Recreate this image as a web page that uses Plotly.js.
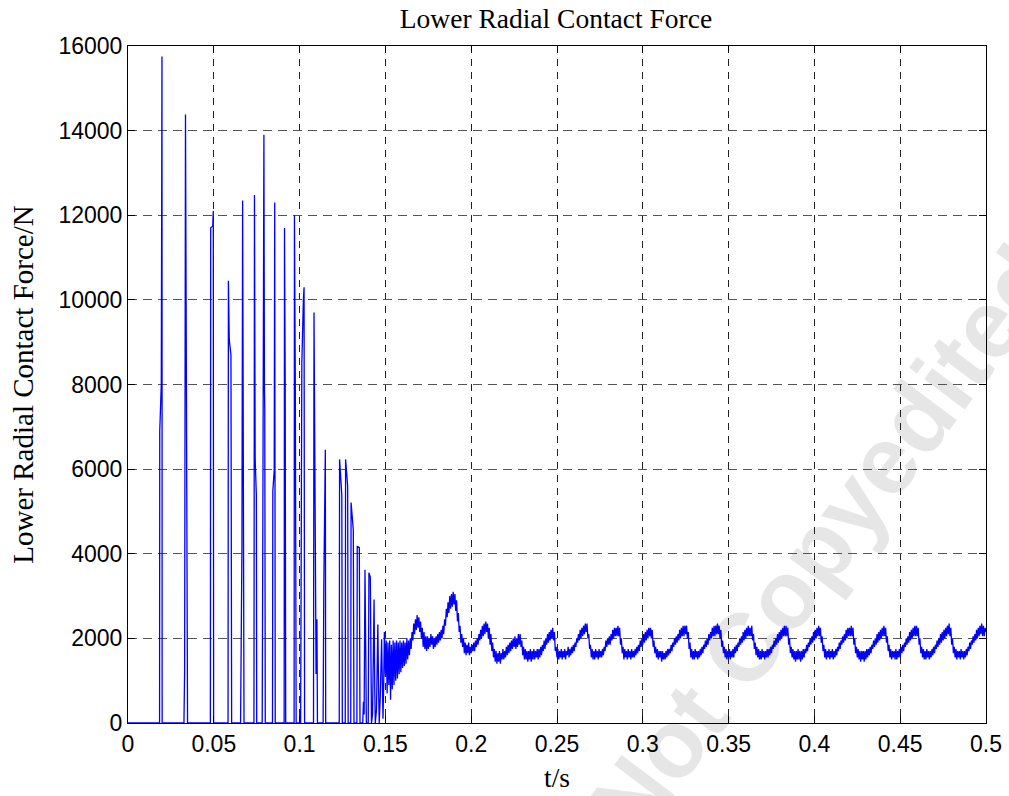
<!DOCTYPE html>
<html>
<head>
<meta charset="utf-8">
<script src="https://cdn.plot.ly/plotly-3.0.1.min.js"></script>
<style>
  html, body { margin: 0; padding: 0; background: #ffffff; }
  #chart { width: 1009px; height: 796px; }
</style>
</head>
<body>
<div id="chart"></div>
<script>
// ---- Transient phase: impact spikes (time in s, force in N) ----
const spikeT = [
  0, 0.0184, 0.0185, 0.0194, 0.0198, 0.0199,
  0.0326, 0.0330, 0.0335, 0.0342, 0.0345, 0.0347,
  0.0480, 0.0482, 0.0494, 0.0497, 0.0499,
  0.0583, 0.0585, 0.0590, 0.0600, 0.0604,
  0.0656, 0.0664, 0.0668, 0.0672, 0.0676,
  0.0734, 0.0737, 0.0741, 0.0748, 0.0750,
  0.0782, 0.0786, 0.0792, 0.0795, 0.0797, 0.0800,
  0.0842, 0.0844, 0.0852, 0.0855, 0.0858,
  0.0910, 0.0912, 0.0916, 0.0919,
  0.0968, 0.0970, 0.0975, 0.0980,
  0.1006, 0.1009, 0.1013, 0.1022, 0.1026, 0.1029,
  0.1081, 0.1084, 0.1094, 0.1096, 0.1101, 0.1104,
  0.1137, 0.1141, 0.1150, 0.1152,
  0.1231, 0.1233, 0.1246, 0.1249,
  0.1266, 0.1268, 0.1280, 0.1283,
  0.1298, 0.1300, 0.1313, 0.1317,
  0.1334, 0.1336, 0.1348, 0.1352,
  0.1368, 0.1372, 0.1376, 0.1381, 0.1386, 0.1389,
  0.1400, 0.1404, 0.1412, 0.1416, 0.1419,
  0.1425, 0.1431, 0.1434, 0.1438, 0.1441,
  0.1448, 0.1456, 0.1460, 0.1464,
  0.1470, 0.1478, 0.1482, 0.1486, 0.1490, 0.1494
];
const spikeF = [
  0, 0, 6900, 8000, 15750, 0,
  0, 1240, 14380, 7070, 5600, 0,
  0, 11700, 11750, 12100, 0,
  0, 10450, 9060, 8690, 0,
  0, 4180, 12350, 4100, 0,
  0, 12480, 6230, 5390, 0,
  0, 5000, 13900, 8000, 7400, 0,
  0, 5490, 5960, 12300, 0,
  0, 11700, 8100, 0,
  0, 12000, 8000, 0,
  0, 8190, 8500, 10000, 10300, 0,
  0, 9700, 2500, 1160, 2450, 0,
  0, 3230, 6460, 0,
  0, 6230, 5390, 0,
  0, 6230, 5600, 0,
  0, 5210, 4560, 0,
  0, 4170, 4150, 0,
  0, 500, 200, 3620, 1500, 0,
  0, 3550, 3450, 1000, 0,
  200, 2050, 2920, 800, 0,
  300, 2330, 900, 0,
  600, 1980, 1000, 100, 900, 2150
];

// ---- Steady phase: sampled every steadyDt seconds from steadyT0 (force in N) ----
const steadyT0 = 0.15;
const steadyDt = 0.0005;
const steadyF = [
  /* 0.150 */ 1100,1950,700,1900,900,1950,550,1850,800,1950,900,1900,1000,1950,1050,1900,1150,1950,1200,1900,
  /* 0.160 */ 1300,1950,1350,1900,1400,2000,1500,1950,1600,2000,1750,2150,1950,2350,2100,2450,2200,2550,2250,2500,
  /* 0.170 */ 2150,2400,2000,2250,1800,2150,1750,2050,1700,2050,1750,2000,1800,2100,1850,2050,1750,2000,1800,2050,
  /* 0.180 */ 1850,2100,1900,2150,1950,2200,2000,2300,2100,2450,2300,2700,2500,2850,2600,3000,2700,3050,2750,3100,
  /* 0.190 */ 2800,3050,2650,2900,2400,2600,2150,2300,1900,2100,1800,2000,1650,1900,1600,1850,1650,1900,1600,1800,
  /* 0.200 */ 1650,1850,1700,1900,1700,1950,1800,2000,1850,2100,1950,2200,2000,2300,2050,2350,2100,2400,2150,2350,
  /* 0.210 */ 2000,2250,1850,2100,1700,1900,1550,1750,1450,1700,1400,1650,1450,1700,1400,1650,1500,1750,1500,1700,
  /* 0.220 */ 1550,1800,1600,1850,1650,1900,1700,1950,1750,2000,1800,2050,1750,2000,1800,2100,1850,2100,1800,1950,
  /* 0.230 */ 1600,1800,1500,1750,1500,1700,1450,1700,1500,1750,1450,1700,1500,1750,1500,1700,1550,1750,1500,1750,
  /* 0.240 */ 1550,1800,1600,1850,1700,1950,1750,2000,1850,2100,1900,2150,1950,2200,2000,2250,1950,2150,1700,1800,
  /* 0.250 */ 1550,1750,1500,1700,1550,1750,1500,1700,1550,1750,1500,1700,1600,1800,1550,1750,1600,1800,1650,1850,
  /* 0.260 */ 1700,1900,1800,2000,1900,2100,1950,2200,2000,2250,2050,2300,2100,2350,2150,2350,2000,2100,1750,1850,
  /* 0.270 */ 1550,1750,1500,1700,1500,1750,1550,1700,1500,1750,1550,1700,1550,1750,1600,1800,1700,1950,1800,2000,
  /* 0.280 */ 1850,2050,1850,2100,1950,2200,2000,2250,2050,2250,2050,2300,2050,2250,1850,2000,1650,1800,1500,1750,
  /* 0.290 */ 1550,1700,1500,1750,1550,1700,1500,1750,1550,1700,1550,1750,1600,1800,1650,1850,1700,1950,1800,2000,
  /* 0.300 */ 1850,2100,1900,2150,1950,2200,2000,2250,2050,2250,2000,2200,1800,1950,1650,1800,1550,1750,1500,1700,
  /* 0.310 */ 1550,1700,1450,1700,1500,1650,1500,1700,1550,1750,1600,1750,1650,1850,1700,1900,1800,2000,1850,2050,
  /* 0.320 */ 1900,2100,1950,2200,2000,2250,2050,2300,2050,2300,2100,2300,2000,2150,1750,1900,1550,1750,1500,1700,
  /* 0.330 */ 1500,1750,1550,1700,1500,1700,1550,1750,1600,1800,1650,1850,1750,1950,1800,2000,1850,2100,1950,2150,
  /* 0.340 */ 2000,2250,2050,2300,2050,2300,2100,2350,2100,2300,2000,2200,1800,1950,1650,1800,1550,1750,1500,1700,
  /* 0.350 */ 1550,1750,1500,1700,1550,1750,1550,1800,1650,1850,1700,1900,1800,2000,1850,2050,1900,2150,1950,2200,
  /* 0.360 */ 2000,2250,2050,2300,2050,2250,2050,2300,1950,2100,1750,1900,1600,1800,1550,1750,1500,1700,1500,1750,
  /* 0.370 */ 1550,1700,1500,1700,1550,1750,1550,1750,1600,1800,1650,1850,1750,1950,1800,2000,1850,2100,1900,2150,
  /* 0.380 */ 1950,2200,2000,2250,2050,2300,2050,2300,2050,2250,1850,2000,1650,1800,1550,1750,1500,1700,1450,1700,
  /* 0.390 */ 1500,1750,1500,1700,1450,1700,1500,1750,1550,1750,1650,1850,1700,1900,1800,2000,1850,2050,1900,2150,
  /* 0.400 */ 1950,2200,2000,2250,2050,2300,2050,2250,1900,2050,1700,1850,1550,1750,1500,1700,1550,1750,1500,1700,
  /* 0.410 */ 1550,1750,1500,1700,1550,1750,1600,1800,1700,1900,1750,1950,1850,2050,1900,2100,1950,2200,2000,2250,
  /* 0.420 */ 2050,2250,2050,2300,2050,2250,1850,2000,1650,1800,1550,1750,1500,1700,1450,1700,1500,1700,1450,1700,
  /* 0.430 */ 1500,1750,1550,1750,1600,1800,1650,1850,1750,1950,1800,2000,1850,2100,1900,2150,1950,2200,2000,2250,
  /* 0.440 */ 2050,2300,2050,2250,1900,2050,1700,1850,1550,1750,1500,1700,1550,1700,1500,1750,1500,1700,1550,1750,
  /* 0.450 */ 1550,1800,1650,1850,1700,1900,1800,2000,1850,2050,1900,2150,1950,2200,2000,2250,2050,2300,2050,2300,
  /* 0.460 */ 2050,2250,1850,2000,1650,1800,1550,1750,1500,1700,1500,1750,1550,1700,1500,1700,1550,1750,1600,1800,
  /* 0.470 */ 1650,1850,1750,1950,1800,2000,1850,2100,1900,2150,1950,2200,2000,2250,2050,2300,2100,2350,2050,2250,
  /* 0.480 */ 1850,2000,1650,1800,1550,1750,1500,1700,1550,1700,1500,1750,1550,1700,1500,1700,1550,1750,1600,1800,
  /* 0.490 */ 1700,1900,1750,1950,1850,2050,1900,2100,1950,2200,2000,2250,2050,2300,2100,2350,2050,2300,2050,2250,
  /* 0.500 */ 2150
];

// ---- Axis ticks ----
const xTickVals = [0, 0.05, 0.1, 0.15, 0.2, 0.25, 0.3, 0.35, 0.4, 0.45, 0.5];
const xTickText = ['0', '0.05', '0.1', '0.15', '0.2', '0.25', '0.3', '0.35', '0.4', '0.45', '0.5'];
const yTickVals = [0, 2000, 4000, 6000, 8000, 10000, 12000, 14000, 16000];
const yTickText = ['0', '2000', '4000', '6000', '8000', '10000', '12000', '14000', '16000'];

const chartTitle = 'Lower Radial Contact Force';
const xTitle = 't/s';
const yTitle = 'Lower Radial Contact Force/N';
const watermark = 'Not Copyedited';

// build full series
const steadyT = steadyF.map((_, i) => +(steadyT0 + i * steadyDt).toFixed(4));
const tAll = spikeT.concat(steadyT);
const fAll = spikeF.concat(steadyF);

const tickFont = { family: 'Liberation Sans, Arial, sans-serif', size: 23, color: '#000000' };
const serif = 'Liberation Serif, Times New Roman, serif';

const trace = {
  x: tAll,
  y: fAll,
  type: 'scatter',
  mode: 'lines',
  line: { color: '#0000ff', width: 1.3 },
  hoverinfo: 'skip'
};

const layout = {
  width: 1009,
  height: 796,
  margin: { l: 128, r: 23, t: 46, b: 73, pad: 0 },
  paper_bgcolor: '#ffffff',
  plot_bgcolor: '#ffffff',
  showlegend: false,
  title: {
    text: chartTitle,
    font: { family: serif, size: 27.5, color: '#000000' },
    x: 0.551, xanchor: 'center',
    y: 0.977, yanchor: 'middle'
  },
  xaxis: {
    range: [0, 0.5],
    tickvals: xTickVals,
    ticktext: xTickText,
    tickfont: tickFont,
    ticks: 'inside',
    ticklen: 7,
    tickcolor: '#000000',
    showline: true,
    linecolor: '#000000',
    linewidth: 1,
    mirror: 'ticks',
    showgrid: true,
    gridcolor: '#222222',
    gridwidth: 1,
    griddash: '7px,6px',
    zeroline: false,
    title: { text: xTitle, font: { family: serif, size: 27.5, color: '#000000' }, standoff: 12 }
  },
  yaxis: {
    range: [0, 16000],
    tickvals: yTickVals,
    ticktext: yTickText,
    tickfont: tickFont,
    ticks: 'inside',
    ticklen: 7,
    tickcolor: '#000000',
    showline: true,
    linecolor: '#000000',
    linewidth: 1,
    mirror: 'ticks',
    showgrid: true,
    gridcolor: '#555555',
    gridwidth: 1,
    griddash: '9px,6px',
    zeroline: false,
    title: { text: yTitle, font: { family: serif, size: 29, color: '#000000' }, standoff: 16 }
  },
  shapes: [{
    type: 'rect', xref: 'paper', yref: 'paper',
    x0: 0.774, x1: 0.830, y0: 0.248, y1: 0.304,
    line: { width: 0 }, fillcolor: 'rgba(0,0,0,0)',
    layer: 'below',
    label: {
      text: '<b>' + watermark + '</b>',
      textangle: -53,
      textposition: 'middle center',
      font: { family: 'Liberation Sans, Arial, sans-serif', size: 96, color: '#e6e6e6' }
    }
  }]
};

Plotly.newPlot('chart', [trace], layout, { staticPlot: true, displayModeBar: false });
</script>
</body>
</html>
